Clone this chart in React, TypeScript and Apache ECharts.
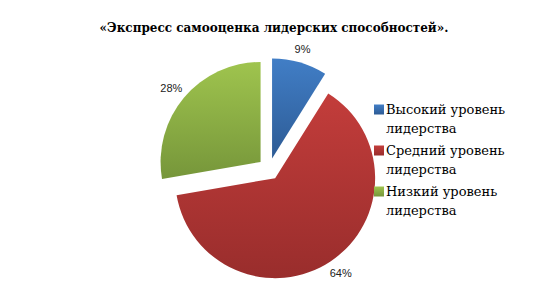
import React, { useEffect, useRef } from "react";
import * as echarts from "echarts";

const title = "«Экспресс самооценка лидерских способностей».";
const categories = ["Высокий уровень лидерства", "Средний уровень лидерства", "Низкий уровень лидерства"];
const legendLines = [
  ["Высокий уровень", "лидерства"],
  ["Средний уровень", "лидерства"],
  ["Низкий уровень", "лидерства"],
];
const values = [9, 64, 28];
const colorTop = ["#417ec6", "#c33d3b", "#9fc44e"];
const colorBottom = ["#2d5b95", "#992d2c", "#76963a"];

const SERIF = "DejaVu Serif";

export default function App() {
  const ref = useRef<HTMLDivElement>(null);
  useEffect(() => {
    const chart = echarts.init(ref.current!, null, { renderer: "svg" });
    chart.setOption({
      animation: false,
      backgroundColor: "#ffffff",
      textStyle: { fontFamily: SERIF },
      title: {
        text: title,
        left: 269,
        textAlign: "center",
        top: 17,
        textStyle: { fontFamily: SERIF, fontSize: 12, fontWeight: "bold", color: "#000" },
      },
      legend: {
        orient: "vertical",
        left: 369,
        top: 76,
        itemWidth: 10,
        itemHeight: 10,
        itemGap: -16,
        icon: "rect",
        selectedMode: false,
        formatter: (name: string) =>
          legendLines[categories.indexOf(name)].map((l) => `{t|${l}}`).join("\n"),
        textStyle: {
          fontFamily: SERIF,
          fontSize: 13,
          color: "#000",
          lineHeight: 19,
          padding: [19, 0, 0, -3],
          rich: {
            t: { fontFamily: SERIF, fontSize: 13, lineHeight: 19, color: "#000" },
          },
        },
        data: categories,
      },
      series: [
        {
          type: "pie",
          center: [269, 169],
          radius: 100,
          startAngle: 90,
          clockwise: true,
          selectedMode: "multiple",
          selectedOffset: 11,
          silent: true,
          emphasis: { disabled: true },
          label: {
            show: true,
            position: "outside",
            formatter: (p: any) => `${p.value}%`,
            fontFamily: "Liberation Sans",
            fontSize: 11,
            color: "#222",
            distanceToLabelLine: -9,
          },
          labelLine: { show: false, length: 14, length2: 0 },
          data: categories.map((name, i) => ({
            name,
            value: values[i],
            selected: true,
            itemStyle: {
              color: new echarts.graphic.LinearGradient(0, 0, 0, 1, [
                { offset: 0, color: colorTop[i] },
                { offset: 1, color: colorBottom[i] },
              ]),
            },
            select: {
              itemStyle: {
                color: new echarts.graphic.LinearGradient(0, 0, 0, 1, [
                  { offset: 0, color: colorTop[i] },
                  { offset: 1, color: colorBottom[i] },
                ]),
              },
            },
          })),
        },
      ],
    });
    return () => chart.dispose();
  }, []);
  return <div ref={ref} style={{ position: "absolute", left: 0, top: 0, width: 538, height: 288 }} />;
}
